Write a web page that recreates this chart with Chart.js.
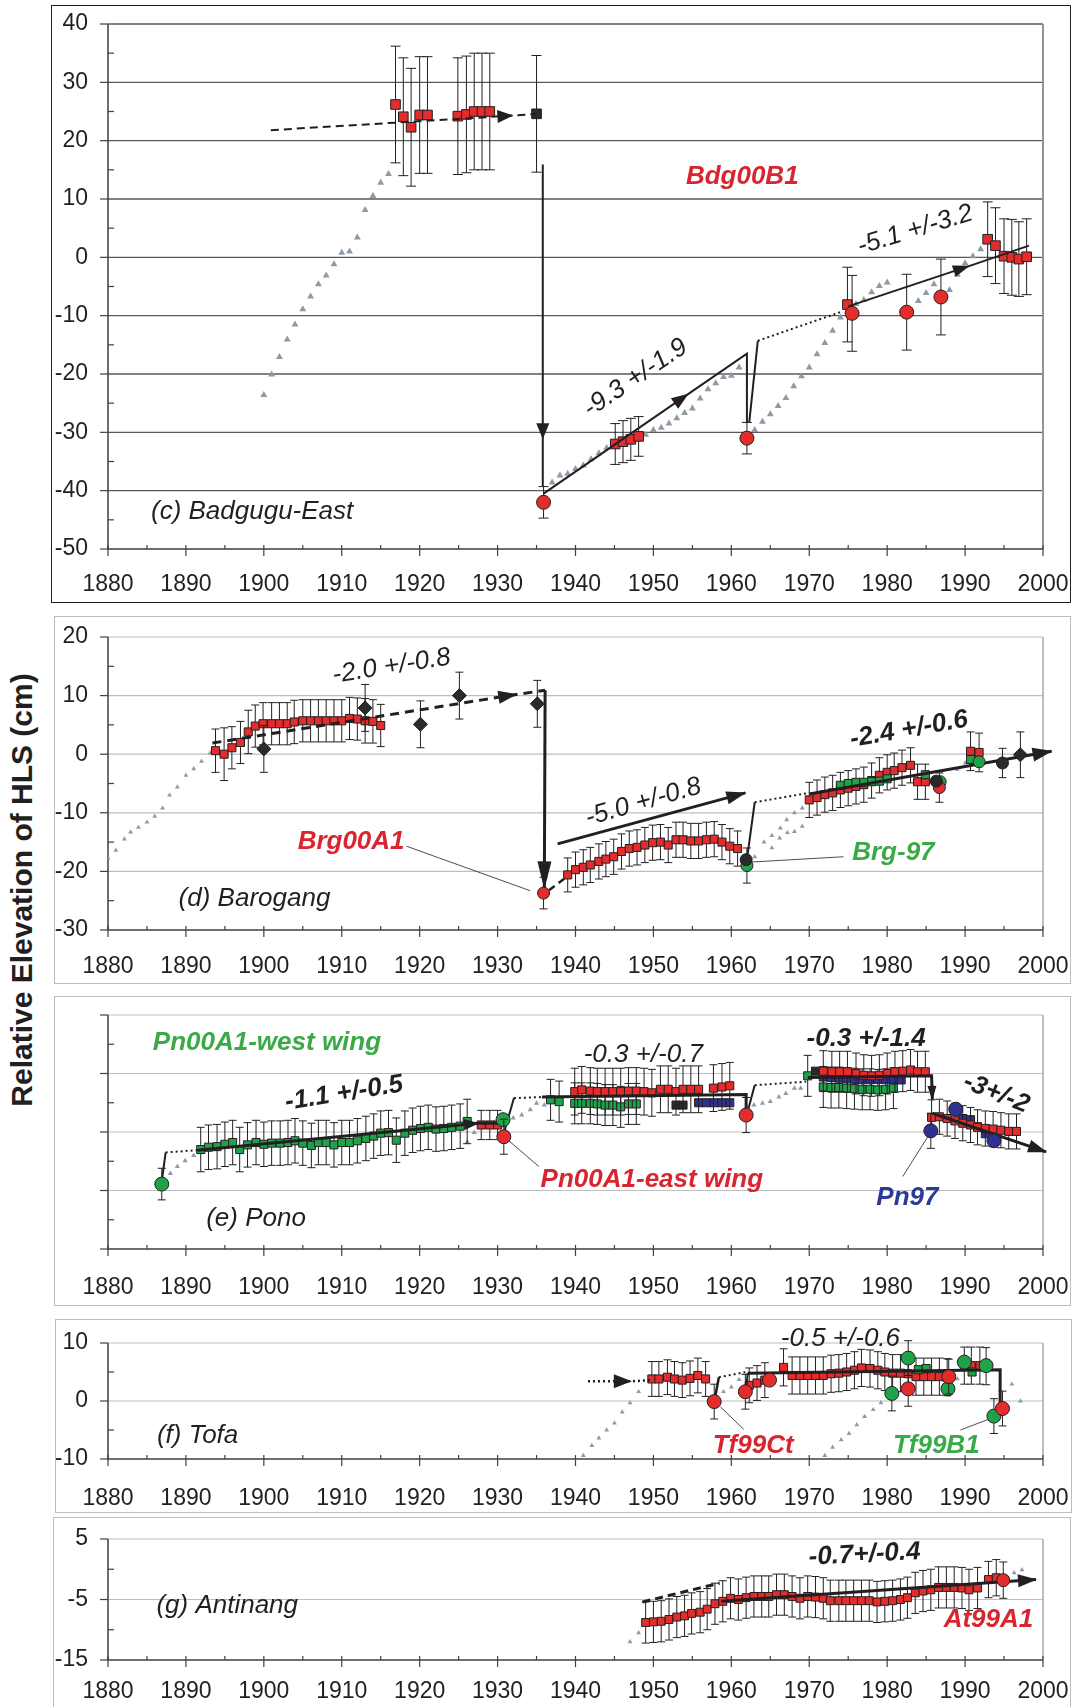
<!DOCTYPE html>
<html><head><meta charset="utf-8">
<script src="https://cdn.jsdelivr.net/npm/chart.js@4.4.0/dist/chart.umd.min.js"></script>
<style>
body{margin:0;background:#fff;width:1078px;height:1707px;overflow:hidden;position:relative;font-family:"Liberation Sans",Arial,sans-serif}
canvas{position:absolute}
.box{position:absolute;box-sizing:border-box;pointer-events:none}
#ytitle{position:absolute;left:-237px;top:872px;width:520px;height:36px;line-height:36px;text-align:center;font:bold 30px "Liberation Sans",Arial,sans-serif;color:#231f20;transform:rotate(-90deg);transform-origin:50% 50%;white-space:nowrap}
</style></head><body>
<div id="ytitle">Relative Elevation of HLS (cm)</div>
<script>
const X_MIN=1880, X_MAX=2000;
const FONT='"Liberation Sans", Arial, sans-serif';
const TICK_SIZE=23, NOTE_SIZE=26;
const INK='#231f20', RED='#e42c2c', GREEN='#1ea34a', BLUE='#2e3192', BLK='#2a2a2a', TRI='#8e9aa6';
const TXT_RED='#d9252f', TXT_GREEN='#3aaa47', TXT_BLUE='#283c96';

// ---------- (c) Badgugu-East ----------
const cTriangles=[[1900,-23.6],[1901,-20.1],[1902,-17.1],[1903,-14.1],[1904,-11.5],[1905,-8.9],[1906,-6.7],[1907,-4.6],[1908,-3.1],[1909,-1.2],[1910,0.8],[1911,1.0],[1912,3.4],[1913,8.1],[1914,10.5],[1915,12.8],[1916,14.3],[1937,-38.6],[1938,-37.4],[1939,-37.1],[1940,-36.3],[1941,-35.7],[1942,-34.6],[1943,-33.6],[1944,-32.7],[1949,-30.4],[1950,-29.6],[1951,-29.2],[1952,-28.5],[1953,-27.6],[1954,-26.7],[1955,-25.9],[1956,-24.2],[1957,-22.6],[1958,-21.6],[1959,-20.5],[1960,-20.3],[1961,-18.9],[1963,-29.6],[1964,-28.2],[1965,-26.9],[1966,-25.5],[1967,-24.1],[1968,-22.1],[1969,-20.4],[1970,-18.9],[1971,-16.6],[1972,-14.7],[1973,-12.6],[1974,-10.3],[1976,-8.0],[1977,-7.3],[1978,-6.0],[1979,-4.9],[1980,-4.3],[1984,-7.5],[1985,-6.1],[1986,-4.6],[1988,-5.6],[1989,-3.0],[1990,-1.0],[1991,0.2],[1992,1.4]];
const cRedSquares=[[1916.9,26.2,10],[1917.9,24.1,10.1],[1918.9,22.3,10.1],[1920,24.4,10],[1921,24.4,10],[1924.9,24.2,10],[1926,24.5,10],[1927,25.0,10],[1928,25.0,10],[1929,25.0,10],[1945.1,-32.0,3.5],[1946.1,-31.6,3.6],[1947.1,-31.2,3.6],[1948.1,-30.7,3.4],[1974.9,-8.1,6.4],[1992.9,3.1,6.4],[1993.9,2.0,6.5],[1995,0.2,6.4],[1996,0.0,6.5],[1996.9,-0.3,6.4],[1997.9,0.1,6.5]];
const cBlackSquares=[[1935,24.6,10]];
const cRedCircles=[[1935.9,-42,2.7],[1962,-31,2.7],[1975.5,-9.6,6.5],[1982.5,-9.4,6.5],[1986.9,-6.8,6.5]];
const cDashTrend=[[1900.9,21.8],[1931.9,24.3],[1935,24.6]];
const cDrop=[[1935.8,15.9],[1935.8,-31],[1935.8,-39.3]];
const cTrend1=[[1935.9,-40.5],[1954.4,-23.5],[1962,-16.5],[1962,-28.3]];
const cJump=[[1962.3,-28.3],[1963.4,-14.3]];
const cDotted=[[1963.4,-14.3],[1974.2,-9.3]];
const cTrend2=[[1975,-8.4],[1990.5,-1.5],[1998.2,2.0]];

// ---------- (d) Barogang ----------
const dTriangles=[[1880,-17.7],[1881,-16.4],[1882.1,-14.5],[1882.9,-13.3],[1883.9,-12.5],[1885,-11.6],[1886,-10.6],[1887,-9.2],[1887.9,-7.0],[1888.9,-5.6],[1890,-3.6],[1891,-2.5],[1892,-1.2],[1893.1,0.2],[1963,-17.5],[1964.2,-15.0],[1965.2,-13.9],[1966.3,-12.6],[1967.1,-11.2],[1968.1,-10.0],[1969.1,-9.2],[1965.2,-16.0],[1966.2,-14.3],[1967.2,-13.4],[1968.1,-13.2],[1969.1,-12.3],[1989,-2.6],[1990,-1.5]];
const dRedSquares=[[1893.8,0.6,3.7],[1894.9,0.0,4.5],[1895.9,1.1,3.6],[1897,2.0,3.6],[1898,3.8,3.7],[1898.9,4.8,3.6],[1899.9,5.2,3.6],[1901,5.2,3.6],[1902,5.2,3.6],[1903,5.2,3.6],[1903.9,5.5,3.7],[1905,5.7,3.6],[1906,5.7,3.6],[1907,5.7,3.6],[1908,5.7,3.6],[1909,5.7,3.6],[1910,5.7,3.6],[1911,6.1,3.6],[1912,6.0,3.6],[1913,5.7,3.8],[1914,5.6,3.7],[1915,4.9,3.6],[1939,-20.6,2.9],[1940,-19.7,3],[1941,-19.3,3],[1941.9,-18.9,3],[1943,-18.3,3],[1943.9,-17.9,3],[1944.9,-17.5,3],[1945.9,-16.6,3],[1946.9,-16.1,3],[1947.9,-15.9,3],[1948.9,-15.5,3],[1949.9,-15.1,3],[1950.9,-15.0,3],[1951.9,-15.5,3],[1952.9,-14.6,3],[1953.8,-14.6,3],[1954.8,-14.8,3],[1955.8,-14.8,3],[1956.8,-14.6,3],[1957.8,-14.5,3],[1958.8,-15.0,3],[1959.8,-15.7,3],[1960.8,-16.1,3],[1970,-7.8,3],[1971,-7.4,3],[1972,-6.9,3],[1973,-6.6,3],[1974,-6.1,3],[1975,-5.8,3],[1976,-5.5,3],[1977,-5.2,3],[1978,-4.5,3],[1979,-3.6,3],[1980,-3.1,3],[1980.9,-2.8,3],[1981.9,-2.3,3],[1983,-1.9,3],[1983.9,-4.7,3],[1984.9,-4.7,3],[1990.7,0.5,3.3],[1991.8,0.3,3.3]];
const dGreenSquares=[[1974,-5.3],[1975,-5.0],[1976,-4.8],[1977,-4.8],[1978,-4.7],[1979,-4.6],[1980,-4.2],[1984.9,-3.5],[1990.7,-0.9]];
const dRedCircles=[[1935.9,-23.7,2.7],[1986.7,-5.7,2.5]];
const dGreenCircles=[[1962,-19.0,3],[1986.8,-4.7],[1991.8,-1.3]];
const dBlackCircles=[[1961.9,-18.0],[1986.3,-4.6],[1994.8,-1.5,2.5]];
const dDiamonds=[[1900,0.9,4],[1913,7.9,4],[1920.1,5.1,4],[1925.1,10.0,4],[1935.1,8.6,4],[1997.1,-0.1,3.9]];
const dDashTrend=[[1893.4,1.9],[1932.4,10.2],[1936.1,10.9]];
const dDrop=[[1936.1,10.9],[1936,-22.9]];
const dDashShort=[[1936.6,-23.2],[1939,-20.8]];
const dTrend1=[[1937.7,-15.3],[1961.8,-6.6]];
const dJump=[[1962,-18],[1963,-8.2]];
const dDotted=[[1963,-8.2],[1970,-6.6]];
const dTrend2=[[1970,-6.8],[2001.1,0.5]];
const dLeaderA=[[1918.3,-15.7],[1934.2,-23.3]];
const dLeaderB=[[1974.4,-17.5],[1962.6,-18.4]];

// ---------- (e) Pono ----------
const eTriangles=[[1888,-7.1],[1888.9,-5.9],[1889.9,-4.9],[1891,-4.0],[1926.1,-1.7],[1927,-0.1],[1932,2.4],[1933.1,2.9],[1934.2,3.8],[1935,4.9],[1936,4.6],[1962.9,4.6],[1964,4.9],[1965,5.2],[1966.1,6.0],[1967,6.6],[1968.1,7.5],[1968.9,7.5]];
const eGreenSquares=[[1891.9,-3.0,3.8],[1892.9,-2.6,3.8],[1894,-2.5,3.8],[1895,-2.1,3.8],[1896,-1.8,3.8],[1896.9,-3.0,3.8],[1897.9,-2.2,3.8],[1899,-1.8,3.8],[1900,-2.1,3.8],[1901,-1.9,3.8],[1902.1,-1.9,3.8],[1903.1,-1.8,3.8],[1904,-1.5,3.8],[1905,-1.9,3.8],[1906.1,-2.3,3.8],[1907,-1.8,3.8],[1908,-1.8,3.8],[1909,-2.2,3.8],[1910,-1.8,3.8],[1911,-1.8,3.8],[1912,-1.5,3.8],[1913.1,-1.1,3.8],[1914.1,-0.7,3.8],[1915,-0.2,3.8],[1916,-0.1,3.8],[1917,-1.4,3.8],[1918.1,-0.2,3.8],[1919.1,0.3,3.8],[1920.1,0.6,3.8],[1921.1,0.8,3.8],[1922.1,0.5,3.8],[1923.1,0.6,3.8],[1924.1,0.8,3.8],[1925.2,1.0,3.8],[1926.1,1.8,3.8],[1936.8,5.5,3.5],[1937.9,5.2,3.5],[1939.9,4.9,3.5],[1940.8,4.9,3.5],[1941.9,4.9,3.5],[1942.8,4.8,3.5],[1943.8,4.6,3.5],[1944.8,4.6,3.5],[1945.8,4.3,3.5],[1946.8,4.8,3.5],[1947.8,4.8,3.5],[1969.8,9.6,3.5],[1971.8,7.7,3.5],[1972.8,7.6,3.5],[1973.8,7.6,3.5],[1974.8,7.5,3.5],[1975.8,7.4,3.5],[1976.8,7.3,3.5],[1977.8,7.3,3.5],[1978.8,7.2,3.5],[1979.8,7.3,3.5],[1980.8,7.5,3.5]];
const eRedSquares=[[1927.9,1.2,2.5],[1929,1.2,2.5],[1930,1.2,2.5],[1939.9,6.9,4],[1940.8,7.2,4],[1941.9,7.0,4],[1942.8,6.9,4],[1943.8,6.9,4],[1944.8,6.9,4],[1945.8,6.9,4],[1946.8,7.0,4],[1947.8,7.0,4],[1948.8,6.9,4],[1949.8,6.7,4],[1950.9,7.3,4],[1951.9,7.3,4],[1952.9,6.9,4],[1953.8,7.3,4],[1954.8,7.3,4],[1955.8,7.3,4],[1957.7,7.5,4],[1958.8,7.7,4],[1959.8,7.9,4],[1971.8,10.4,3.5],[1972.9,10.3,3.5],[1973.9,10.3,3.5],[1974.9,10.3,3.5],[1976,10.0,3.5],[1977,9.7,3.5],[1978,9.6,3.5],[1979,9.7,3.5],[1980,10.0,3.5],[1981,10.3,3.5],[1982,10.4,3.5],[1983,10.6,3.5],[1983.9,10.3,3.5],[1984.9,10.3,3.5],[1985.7,2.5,3],[1986.7,2.6,3],[1987.7,2.3,3],[1988.7,1.9,3],[1989.7,1.5,3],[1990.7,1.2,3],[1991.6,0.8,3],[1992.6,0.6,3],[1993.6,0.5,3],[1994.6,0.3,3],[1995.6,0.1,3],[1996.6,0.1,3]];
const eBlueSquares=[[1955.8,5.0],[1956.8,5.0],[1957.8,5.0],[1958.8,5.0],[1959.8,5.0],[1971.8,9.4],[1972.8,9.3],[1973.8,9.2],[1974.8,9.1],[1975.8,9.0],[1976.8,9.0],[1977.8,9.0],[1978.8,9.0],[1979.8,9.0],[1980.8,9.0],[1981.8,8.9],[1989.7,2.3],[1990.7,2.1],[1991.6,0.9],[1992.6,-0.3]];
const eBlackSquares=[[1952.9,4.6],[1953.8,4.6],[1970.8,10.4]];
const eGreenCircles=[[1886.9,-8.9,2.7],[1930.7,2.1]];
const eRedCircles=[[1930.8,-0.8,3],[1961.9,2.9,3]];
const eBlueCircles=[[1985.6,0.2,3],[1988.8,3.9],[1993.7,-1.5]];
const eJump1=[[1886.9,-8.5],[1887.4,-3.5]];
const eDotted1=[[1887.4,-3.5],[1891.5,-3.1]];
const eTrend1=[[1891.5,-3.1],[1927.5,1.5]];
const eTrend1b=[[1927.5,1.5],[1930.8,1.5]];
const eJump2=[[1930.8,-0.2],[1932.1,5.8]];
const eDotted2=[[1932.1,5.8],[1936.2,6.0]];
const eTrend2=[[1935.7,6.0],[1961.9,6.4],[1961.9,2.9]];
const eJump3=[[1962.2,4.0],[1963,8.0]];
const eDotted3=[[1963,8.0],[1969.6,8.6]];
const eTrend3=[[1969.8,9.3],[1985.7,9.6],[1985.8,5.5]];
const eTrend4=[[1985.8,3.2],[2000.4,-3.4]];
const eLeaderEast=[[1931.1,-1.1],[1935.3,-5.9]];
const eLeaderPn97=[[1985.5,-0.2],[1982,-7.6]];

// ---------- (f) Tofa ----------
const fTriangles=[[1941,-9.4],[1942.1,-7.7],[1943,-6.4],[1944,-5.0],[1945,-3.8],[1946,-1.9],[1947,-0.3],[1948.1,1.6],[1959,1.6],[1960,2.4],[1961,3.7],[1972,-9.4],[1973,-8.0],[1974.1,-6.7],[1975.1,-5.6],[1976.1,-4.1],[1977.1,-2.7],[1978.2,-1.5],[1979.2,-0.3],[1989,3.8],[1996,2.9],[1997.1,0.0]];
const fRedSquares=[[1949.8,3.8,3],[1950.7,3.8,3],[1951.8,4.1,3],[1952.7,3.8,3],[1953.7,3.6,3],[1954.7,3.9,3],[1955.7,4.4,3],[1956.7,3.8,3],[1962.3,2.7,3],[1963.3,3.1,3],[1964.3,3.6,3],[1966.7,5.8,3.2],[1967.8,4.4,3.2],[1968.8,4.4,3.2],[1969.8,4.4,3.2],[1970.8,4.4,3.2],[1971.8,4.4,3.2],[1972.8,4.7,3.2],[1973.8,4.8,3.2],[1974.8,5.0,3.2],[1975.8,5.3,3.2],[1976.7,5.7,3.2],[1977.8,5.6,3.2],[1978.8,5.3,3.2],[1979.7,5.0,3.2],[1980.7,4.8,3.2],[1981.7,4.8,3.2],[1982.7,4.7,3.2],[1983.7,4.2,3.2],[1984.7,4.2,3.2],[1985.7,4.2,3.2],[1986.7,4.2,3.2],[1987.7,4.1,3.2],[1989.9,6.1,3.2],[1990.8,6.1,3.2],[1991.9,6.1,3.2],[1992.7,6.0,3.2]];
const fGreenSquares=[[1984,5.4],[1985,5.6],[1990.9,5.0]];
const fRedCircles=[[1957.8,-0.1,3],[1961.8,1.6,3],[1964.9,3.6],[1982.7,2.1,3],[1987.9,4.2,3],[1994.8,-1.3,3]];
const fGreenCircles=[[1980.6,1.3,3],[1982.7,7.4,3],[1987.8,2.1],[1989.9,6.7],[1992.7,6.1],[1993.7,-2.6,3]];
const fDottedArrow=[[1941.6,3.4],[1947.1,3.4],[1949.8,3.6]];
const fJump1=[[1957.9,0.5],[1958.4,4.1]];
const fDotted1=[[1958.4,4.1],[1961.9,5.0]];
const fJump2=[[1961.9,2.0],[1962.1,4.8]];
const fTrend=[[1962.1,4.8],[1994.5,5.4],[1994.5,-1.6]];
const fLeaderCt=[[1958.6,-1.0],[1961.6,-4.9]];
const fLeaderB1=[[1989.4,-5.0],[1993.3,-3.0]];

// ---------- (g) Antinang ----------
const gTriangles=[[1947,-12.0],[1948.1,-10.5],[1996.3,-0.6],[1997.3,-0.1]];
const gRedSquares=[[1949,-8.8,3.4],[1950,-8.7,3.4],[1951,-8.6,3.4],[1952,-8.3,3.4],[1953,-7.9,3.4],[1954,-7.7,3.4],[1954.9,-7.3,3.4],[1956,-7.1,3.4],[1956.9,-6.6,3.4],[1957.9,-5.7,3.4],[1958.9,-5.3,3.4],[1959.9,-4.8,3.4],[1960.9,-5.0,3.4],[1961.9,-4.7,3.4],[1962.9,-4.5,3.4],[1963.9,-4.5,3.4],[1964.8,-4.5,3.4],[1965.8,-4.2,3.4],[1966.8,-4.2,3.4],[1967.8,-4.5,3.4],[1968.8,-4.8,3.4],[1969.8,-4.5,3.4],[1970.8,-4.6,3.4],[1971.8,-4.8,3.4],[1972.7,-5.2,3.4],[1973.8,-5.2,3.4],[1974.7,-5.2,3.4],[1975.7,-5.2,3.4],[1976.7,-5.2,3.4],[1977.7,-5.2,3.4],[1978.7,-5.4,3.4],[1979.7,-5.3,3.4],[1980.7,-5.2,3.4],[1981.7,-5.0,3.4],[1982.6,-4.7,3.4],[1983.6,-3.9,3.4],[1984.6,-3.6,3.4],[1985.6,-3.4,3.4],[1986.6,-3.0,3.4],[1987.6,-3.0,3.4],[1988.6,-3.0,3.4],[1989.6,-3.1,3.4],[1990.5,-3.4,3.4],[1991.6,-3.1,3.4],[1993,-1.7,3],[1994,-1.4,3]];
const gRedCircles=[[1994.9,-1.8,3]];
const gDashTrend=[[1948.6,-5.4],[1958.5,-2.3]];
const gTrend=[[1958.7,-5.3],[1999.1,-1.7]];

// ---------- helpers ----------
const pts=a=>a.map(p=>({x:p[0],y:p[1]}));
function marks(arr,style,fill,r,order,cap){return {data:pts(arr),errs:arr.map(p=>p[2]||0),cap:cap||4,pointStyle:style,pointRadius:r,pointHoverRadius:r,pointBackgroundColor:fill,pointBorderColor:INK,pointBorderWidth:1,showLine:false,order:order};}
function tris(arr,r){return {data:pts(arr),pointStyle:'triangle',pointRadius:r,pointHoverRadius:r,pointBackgroundColor:TRI,pointBorderColor:TRI,pointBorderWidth:0,showLine:false,order:30};}
function seg(arr,o){o=o||{};return {data:pts(arr),showLine:true,pointRadius:0,pointHoverRadius:0,borderColor:o.color||INK,backgroundColor:o.color||INK,borderWidth:o.w||2,borderDash:o.dash||[],fill:false,clip:false,tension:0,arrows:o.arrows||[],order:10};}
const DASH=[8,5], DOT=[2,3];

const panels=[
 {id:'c',box:[51,5,1071,603],plot:[108,24,1043,549],y:[-50,40],labels:true,xPad:22,grid:'#58595b',gridW:1.3,frame:'#939598',frameW:2,
  texts:[
   {t:'Bdg00B1',x:1961.4,y:13.8,color:TXT_RED,bold:true},
   {t:'-9.3 +/-1.9',x:1947.7,y:-20.7,rot:-34},
   {t:'-5.1 +/-3.2',x:1983.6,y:4.7,rot:-17},
   {t:'(c) Badgugu-East',x:1898.5,y:-43.6}],
  datasets:()=>[tris(cTriangles,4),
   seg(cDashTrend,{dash:DASH,arrows:[{i:1,len:15,w:13}]}),
   seg(cDrop,{arrows:[{i:1,len:15,w:13}]}),
   seg(cTrend1,{arrows:[{i:1,len:16,w:13}]}),
   seg(cJump),seg(cDotted,{dash:DOT}),
   seg(cTrend2,{arrows:[{i:1,len:16,w:12}]}),
   marks(cRedSquares,'rect',RED,6.8,20,5),marks(cBlackSquares,'rect',BLK,6.8,20,5),
   marks(cRedCircles,'circle',RED,7,0,5)]},
 {id:'d',box:[54,616,1071,984],plot:[108,637,1043,930],y:[-30,20],labels:true,xPad:23,grid:'#bcbec0',gridW:1.2,frame:'#a7a9ac',frameW:1.5,
  texts:[
   {t:'-2.0 +/-0.8',x:1916.4,y:15.0,rot:-9},
   {t:'Brg00A1',x:1911.2,y:-14.9,color:TXT_RED,bold:true},
   {t:'(d) Barogang',x:1898.8,y:-24.6},
   {t:'-5.0 +/-0.8',x:1948.7,y:-8.2,rot:-16},
   {t:'Brg-97',x:1980.8,y:-16.9,color:TXT_GREEN,bold:true},
   {t:'-2.4 +/-0.6',x:1982.8,y:4.2,rot:-10,bold:true}],
  datasets:()=>[tris(dTriangles,2.8),
   seg(dDashTrend,{w:3,dash:[9,6],arrows:[{i:1,len:18,w:13}]}),
   seg(dDrop,{w:3,arrows:[{i:1,len:27,w:14}]}),
   seg(dDashShort,{w:2.5,dash:[7,5]}),
   seg(dTrend1,{w:3,arrows:[{i:1,len:19,w:13}]}),
   seg(dJump,{w:2}),seg(dDotted,{dash:DOT}),
   seg(dTrend2,{w:3,arrows:[{i:1,len:19,w:14}]}),
   seg(dLeaderA,{w:0.8}),seg(dLeaderB,{w:0.8}),
   marks(dRedSquares,'rect',RED,5.7,20),marks(dGreenSquares,'rect',GREEN,5.7,19),
   marks(dGreenCircles,'circle',GREEN,6,2),marks(dRedCircles,'circle',RED,6,1),marks(dBlackCircles,'circle',BLK,6,0),
   marks(dDiamonds,'rectRot',BLK,7,0,4)]},
 {id:'e',box:[54,996,1071,1306],plot:[108,1015,1043,1249],y:[-20,20],labels:false,xPad:25,grid:'#bcbec0',gridW:1.2,frame:'#a7a9ac',frameW:1.5,
  texts:[
   {t:'Pn00A1-west wing',x:1900.4,y:15.2,color:TXT_GREEN,bold:true},
   {t:'-1.1 +/-0.5',x:1910.3,y:6.6,rot:-9,bold:true},
   {t:'(e) Pono',x:1899,y:-14.9},
   {t:'-0.3 +/-0.7',x:1948.7,y:13.2},
   {t:'Pn00A1-east wing',x:1949.8,y:-8.2,color:TXT_RED,bold:true},
   {t:'-0.3 +/-1.4',x:1977.3,y:16.0,bold:true},
   {t:'-3+/-2',x:1994,y:6.6,rot:22,bold:true},
   {t:'Pn97',x:1982.6,y:-11.3,color:TXT_BLUE,bold:true}],
  datasets:()=>[tris(eTriangles,3),
   seg(eJump1),seg(eDotted1,{dash:DOT}),
   seg(eTrend1,{w:3,arrows:[{i:1,len:14,w:11}]}),seg(eTrend1b,{w:3}),
   seg(eJump2),seg(eDotted2,{dash:DOT}),
   seg(eTrend2,{w:3}),seg(eJump3),seg(eDotted3,{dash:DOT}),
   seg(eTrend3,{w:3,arrows:[{i:2,len:14,w:9}]}),
   seg(eTrend4,{w:3,arrows:[{i:1,len:18,w:13}]}),
   seg(eLeaderEast,{w:0.8}),seg(eLeaderPn97,{w:0.8}),
   marks(eGreenSquares,'rect',GREEN,5.7,22),marks(eRedSquares,'rect',RED,5.7,20),marks(eBlueSquares,'rect',BLUE,5.7,21),marks(eBlackSquares,'rect',BLK,5.7,21),
   marks(eGreenCircles,'circle',GREEN,7,1),marks(eRedCircles,'circle',RED,7,0),marks(eBlueCircles,'circle',BLUE,7,0)]},
 {id:'f',box:[55,1319,1072,1513],plot:[108,1343,1043,1459],y:[-10,10],labels:true,xPad:26,grid:'#bcbec0',gridW:1.2,frame:'#a7a9ac',frameW:1.5,
  texts:[
   {t:'-0.5 +/-0.6',x:1974,y:10.7},
   {t:'Tf99Ct',x:1962.8,y:-7.8,color:TXT_RED,bold:true},
   {t:'Tf99B1',x:1986.3,y:-7.8,color:TXT_GREEN,bold:true},
   {t:'(f) Tofa',x:1891.5,y:-6}],
  datasets:()=>[tris(fTriangles,2.8),
   seg(fDottedArrow,{w:2.5,dash:DOT,arrows:[{i:1,len:17,w:14}]}),
   seg(fJump1,{w:2.5}),seg(fDotted1,{dash:DOT}),seg(fJump2,{w:2}),
   seg(fTrend,{w:3}),
   seg(fLeaderCt,{w:0.8}),seg(fLeaderB1,{w:0.8}),
   marks(fRedSquares,'rect',RED,5.7,20),marks(fGreenSquares,'rect',GREEN,5.7,19),
   marks(fRedCircles,'circle',RED,7,0),marks(fGreenCircles,'circle',GREEN,7,1)]},
 {id:'g',box:[53,1517,1071,1707],plot:[108,1539,1043,1660],y:[-15,5],labels:true,xPad:18,grid:'#bcbec0',gridW:1.2,frame:'#a7a9ac',frameW:1.5,
  texts:[
   {t:'-0.7+/-0.4',x:1977.1,y:2.4,rot:-3,bold:true},
   {t:'At99A1',x:1993,y:-8.3,color:TXT_RED,bold:true},
   {t:'(g) Antinang',x:1895.3,y:-6.1}],
  datasets:()=>[tris(gTriangles,2.8),
   seg(gDashTrend,{w:3,dash:[8,5]}),
   seg(gTrend,{w:3,arrows:[{i:1,len:18,w:13}]}),
   marks(gRedSquares,'rect',RED,5.6,20),marks(gRedCircles,'circle',RED,6.5,0)]}
];

function arrowHead(ctx,x0,y0,x1,y1,len,w){
  const a=Math.atan2(y1-y0,x1-x0);
  ctx.save();ctx.translate(x1,y1);ctx.rotate(a);
  ctx.beginPath();ctx.moveTo(1,0);ctx.lineTo(-len,-w/2);ctx.lineTo(-len,w/2);ctx.closePath();
  ctx.fillStyle=INK;ctx.fill();ctx.restore();
}

function build(P){
  const [bl,bt,br,bb]=P.box,[pl,pt,pr,pb]=P.plot;
  const w=br-bl,h=bb-bt;
  const cv=document.createElement('canvas');
  cv.width=w;cv.height=h;cv.style.left=bl+'px';cv.style.top=bt+'px';cv.style.width=w+'px';cv.style.height=h+'px';
  document.body.appendChild(cv);
  const bx=document.createElement('div');bx.className='box';
  bx.style.left=bl+'px';bx.style.top=bt+'px';bx.style.width=w+'px';bx.style.height=(P.id==='g'?h+20:h)+'px';
  bx.style.border=P.id==='c'?'1.5px solid #231f20':'1.5px solid #bcbec0';
  document.body.appendChild(bx);
  const isMajor=v=>{const r=(((v-P.y[0])%10)+10)%10;return r<1e-6||Math.abs(r-10)<1e-6;};
  const deco={id:'deco',
    beforeDatasetsDraw(chart){
      const ctx=chart.ctx,a=chart.chartArea,xs=chart.scales.x,ys=chart.scales.y;
      ctx.save();
      ctx.strokeStyle=P.grid;ctx.lineWidth=P.gridW;
      for(let v=P.y[0]+10;v<=P.y[1]+1e-6;v+=10){const y=ys.getPixelForValue(v);ctx.beginPath();ctx.moveTo(a.left,y);ctx.lineTo(a.right,y);ctx.stroke();}
      ctx.strokeStyle=P.frame;ctx.lineWidth=P.frameW;
      ctx.beginPath();ctx.moveTo(a.right,a.top);ctx.lineTo(a.right,a.bottom);ctx.stroke();
      ctx.strokeStyle='#414042';ctx.lineWidth=1.5;
      ctx.beginPath();ctx.moveTo(a.left,a.top);ctx.lineTo(a.left,a.bottom);ctx.lineTo(a.right,a.bottom);ctx.stroke();
      ctx.lineWidth=1.2;
      for(let v=X_MIN;v<=X_MAX;v+=5){const x=xs.getPixelForValue(v);ctx.beginPath();
        if(v%10===0){ctx.moveTo(x,a.bottom-4);ctx.lineTo(x,a.bottom+7);}else{ctx.moveTo(x,a.bottom-4);ctx.lineTo(x,a.bottom);}ctx.stroke();}
      for(let v=P.y[0];v<=P.y[1]+1e-6;v+=5){const y=ys.getPixelForValue(v);ctx.beginPath();
        if(isMajor(v)){ctx.moveTo(a.left-8,y);ctx.lineTo(a.left,y);}else{ctx.moveTo(a.left,y);ctx.lineTo(a.left+6,y);}ctx.stroke();}
      ctx.restore();
    },
    beforeDatasetDraw(chart,args){
      const ds=chart.data.datasets[args.index];if(!ds.errs)return;
      const ctx=chart.ctx,ys=chart.scales.y,c=ds.cap;
      ctx.save();ctx.strokeStyle=INK;ctx.lineWidth=1;
      args.meta.data.forEach((p,i)=>{const e=ds.errs[i];if(!e)return;const v=ds.data[i].y;
        const t=ys.getPixelForValue(v+e),b=ys.getPixelForValue(v-e);
        ctx.beginPath();ctx.moveTo(p.x,t);ctx.lineTo(p.x,b);
        ctx.moveTo(p.x-c,t);ctx.lineTo(p.x+c,t);ctx.moveTo(p.x-c,b);ctx.lineTo(p.x+c,b);ctx.stroke();});
      ctx.restore();
    },
    afterDatasetDraw(chart,args){
      const ds=chart.data.datasets[args.index];if(!ds.arrows||!ds.arrows.length)return;
      const m=args.meta.data;
      ds.arrows.forEach(ar=>{const p1=m[ar.i],p0=m[ar.i-1];arrowHead(chart.ctx,p0.x,p0.y,p1.x,p1.y,ar.len,ar.w);});
    },
    afterDatasetsDraw(chart){
      const ctx=chart.ctx,xs=chart.scales.x,ys=chart.scales.y;
      P.texts.forEach(T=>{ctx.save();
        ctx.translate(xs.getPixelForValue(T.x),ys.getPixelForValue(T.y));
        if(T.rot)ctx.rotate(T.rot*Math.PI/180);
        ctx.font='italic '+(T.bold?'bold ':'')+NOTE_SIZE+'px '+FONT;
        ctx.fillStyle=T.color||INK;ctx.textAlign='center';ctx.textBaseline='middle';
        ctx.fillText(T.t,0,0);ctx.restore();});
    }
  };
  // label offsets come from invisible tick marks (tickLength) so the label overhang stays small
  const hiddenGrid=L=>({display:true,drawOnChartArea:false,drawTicks:true,tickLength:L,color:'rgba(0,0,0,0)',tickColor:'rgba(0,0,0,0)'});
  const make=pad=>new Chart(cv,{type:'scatter',data:{datasets:P.datasets()},
    options:{animation:false,responsive:false,events:[],
      layout:{padding:pad},
      plugins:{legend:{display:false},tooltip:{enabled:false}},
      scales:{
        x:{type:'linear',min:X_MIN,max:X_MAX,grid:hiddenGrid(P.xPad),border:{display:false},
           ticks:{stepSize:10,autoSkip:false,maxRotation:0,padding:0,color:INK,font:{family:FONT,size:TICK_SIZE},callback:v=>String(v)},
           afterFit:s=>{s.height=bb-pb;}},
        y:{type:'linear',min:P.y[0],max:P.y[1],grid:hiddenGrid(20),border:{display:false},
           ticks:{stepSize:5,autoSkip:false,padding:0,color:INK,font:{family:FONT,size:TICK_SIZE},callback:v=>(P.labels&&isMajor(v))?String(v):''},
           afterFit:s=>{s.width=pl-bl;}}
      }},
    plugins:[deco]});
  let pad={top:pt-bt,right:br-pr,left:0,bottom:0};
  let ch=make(pad);
  for(let k=0;k<3;k++){
    const a=ch.chartArea;
    const dt=a.top-(pt-bt), dr=(w-a.right)-(br-pr);
    if(Math.abs(dt)<0.5&&Math.abs(dr)<0.5)break;
    pad={top:Math.max(0,pad.top-dt),right:Math.max(0,pad.right-dr),left:0,bottom:0};
    ch.destroy();
    ch=make(pad);
  }
}
panels.forEach(build);
</script>
</body></html>
